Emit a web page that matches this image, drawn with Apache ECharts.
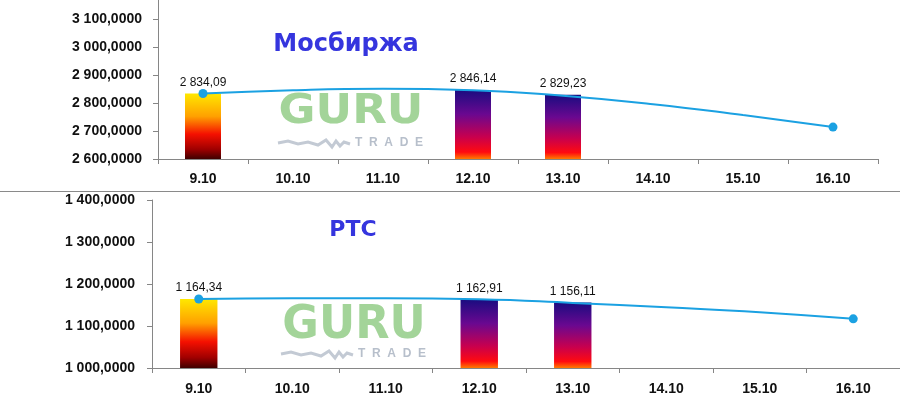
<!DOCTYPE html>
<html>
<head>
<meta charset="utf-8">
<script src="https://cdn.jsdelivr.net/npm/echarts@6/dist/echarts.min.js"></script>
<style>html,body{margin:0;padding:0;background:#fff}#c{width:900px;height:400px}</style>
</head>
<body>
<div id="c"></div>
<script>
const categories = ['9.10','10.10','11.10','12.10','13.10','14.10','15.10','16.10'];
const moexBars  = [2834.09, null, null, 2846.14, 2829.23, null, null, null];
const moexTrend = [2834.09, 2846, 2851, 2846, 2826, 2796, 2757, 2714];
const rtsBars   = [1164.34, null, null, 1162.91, 1156.11, null, null, null];
const rtsTrend  = [1164.34, 1166, 1166, 1163.6, 1155, 1144.5, 1133, 1117];
const moexTicks = [2600, 2700, 2800, 2900, 3000, 3100];
const rtsTicks  = [1000, 1100, 1200, 1300, 1400];
const titles = ['Мосбиржа', 'РТС'];

function fmt(v, d) {
  const s = Number(v).toFixed(d);
  const parts = s.split('.');
  return parts[0].replace(/\B(?=(\d{3})+(?!\d))/g, ' ') + ',' + parts[1];
}

const warm = new echarts.graphic.LinearGradient(0, 0, 0, 1, [
  {offset: 0, color: '#FFE800'}, {offset: 0.35, color: '#FFA000'},
  {offset: 0.62, color: '#F51000'}, {offset: 0.85, color: '#A00000'}, {offset: 1, color: '#400000'}
]);
const cool = new echarts.graphic.LinearGradient(0, 0, 0, 1, [
  {offset: 0, color: '#1A0C80'}, {offset: 0.35, color: '#6A0890'},
  {offset: 0.68, color: '#C8004E'}, {offset: 0.9, color: '#FF0A10'}, {offset: 1, color: '#FF7A00'}
]);

function barData(arr) {
  return arr.map((v, i) => v == null ? null : {value: v, itemStyle: {color: i === 0 ? warm : cool}});
}

const axisCol = '#868686';
const labelFont = {fontFamily: 'Liberation Sans', fontWeight: 'bold', fontSize: 14, color: '#111'};

function yAxis(idx, min, max, ticks, margin) {
  return {
    type: 'value', gridIndex: idx, min: min, max: max,
    axisLine: {show: true, lineStyle: {color: axisCol}},
    axisTick: {show: true, length: 5, lineStyle: {color: axisCol}, customValues: ticks},
    axisLabel: Object.assign({margin: margin, customValues: ticks,
      formatter: v => ticks.indexOf(v) >= 0 ? fmt(v, 4) : ''}, labelFont),
    splitLine: {show: false}
  };
}
function xAxis(idx, margin) {
  return {
    type: 'category', gridIndex: idx, data: categories, boundaryGap: true,
    axisLine: {show: true, lineStyle: {color: axisCol}},
    axisTick: {show: true, length: 5, lineStyle: {color: axisCol}},
    axisLabel: Object.assign({margin: margin, interval: 0}, labelFont)
  };
}
function bars(idx, arr) {
  return {
    type: 'bar', xAxisIndex: idx, yAxisIndex: idx, data: barData(arr), barWidth: '40%', z: 2,
    label: {show: true, position: 'top', distance: 5, fontFamily: 'Liberation Sans', fontSize: 12, color: '#111',
      formatter: p => fmt(p.value, 2)}
  };
}
function trend(idx, arr) {
  const last = arr.length - 1;
  return {
    type: 'line', xAxisIndex: idx, yAxisIndex: idx, data: arr, smooth: true, z: 5,
    symbol: 'circle', showAllSymbol: true,
    symbolSize: (v, p) => (p.dataIndex === 0 || p.dataIndex === last) ? 9 : 0,
    lineStyle: {color: '#1BA1E2', width: 2}, itemStyle: {color: '#1BA1E2'},
    label: {show: false}, silent: true
  };
}

function watermark(cx, cy, sx, sy, fs, ty, wy) {
  return [
    {type: 'text', x: cx, y: cy, scaleX: sx, scaleY: sy, z: 1,
      style: {text: 'GURU', font: 'bold ' + fs + 'px "DejaVu Sans"', fill: '#A3D499', align: 'center', verticalAlign: 'middle'}},
    {type: 'text', x: cx + 38, y: ty, z: 1,
      style: {text: 'T  R  A  D  E', font: 'bold 12px "Liberation Sans"', fill: '#B7BFCB', align: 'center', verticalAlign: 'middle'}},
    {type: 'polyline', x: cx - 73, y: wy, z: 1,
      shape: {points: [[0,3],[10,1],[20,4],[30,2],[40,5],[48,0],[54,7],[58,1],[62,6],[66,2],[72,4]]},
      style: {stroke: '#C3CAD4', lineWidth: 3, fill: null}}
  ];
}

const chart = echarts.init(document.getElementById('c'), null, {renderer: 'canvas'});
chart.setOption({
  animation: false,
  backgroundColor: '#fff',
  grid: [
    {left: 158, right: 22, top: 0, height: 159},
    {left: 152, right: -12, top: 200, height: 168}
  ],
  xAxis: [xAxis(0, 13), xAxis(1, 14)],
  yAxis: [yAxis(0, 2600, 3168, moexTicks, 16), yAxis(1, 1000, 1400, rtsTicks, 17)],
  series: [bars(0, moexBars), trend(0, moexTrend), bars(1, rtsBars), trend(1, rtsTrend)],
  graphic: [
    {type: 'line', shape: {x1: 0, y1: 191.5, x2: 900, y2: 191.5}, style: {stroke: '#8A8A8A', lineWidth: 1}},
    {type: 'text', x: 346, y: 45, z: 10,
      style: {text: titles[0], font: 'bold 24px "DejaVu Sans"', fill: '#3535DE', align: 'center', verticalAlign: 'middle'}},
    {type: 'text', x: 353, y: 230, z: 10,
      style: {text: titles[1], font: 'bold 22px "DejaVu Sans"', fill: '#3535DE', align: 'center', verticalAlign: 'middle'}}
  ].concat(watermark(351, 112, 1.1, 1.0, 41, 143, 140)).concat(watermark(354, 326, 0.97, 1.0, 46, 354, 351))
});
</script>
</body>
</html>
